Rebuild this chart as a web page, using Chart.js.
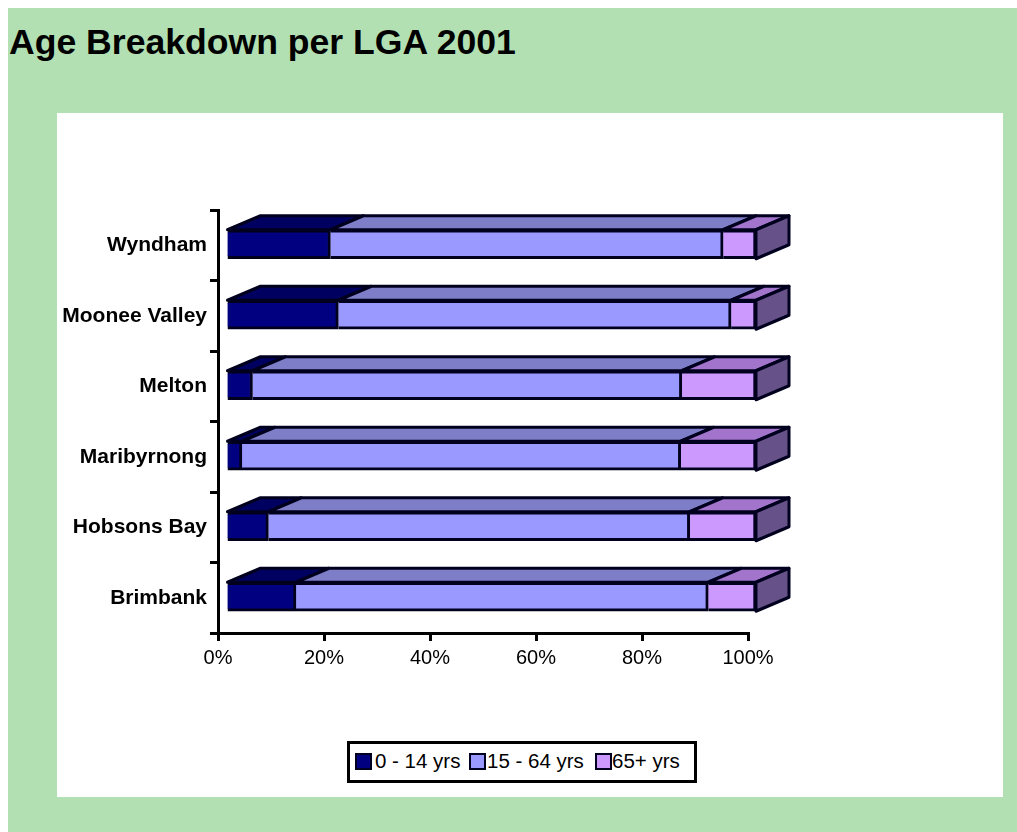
<!DOCTYPE html>
<html>
<head>
<meta charset="utf-8">
<title>Age Breakdown per LGA 2001</title>
<script src="https://cdn.jsdelivr.net/npm/chart.js@4"></script>
<style>
  html, body { margin: 0; background: #fff; overflow: hidden; }
  #page { position: absolute; left: 0; top: 0; width: 1017px; height: 832px; filter: blur(0.6px); }
  #green { position: absolute; left: 8px; top: 8px; right: 0; bottom: 0; background: #b2e0b2; }
  #panel { position: absolute; left: 57px; top: 113px; width: 946px; height: 684px; background: #fff; }
  h1 { position: absolute; left: 9px; top: 22px; margin: 0; font: bold 35.6px "Liberation Sans", Arial, sans-serif; color: #000; white-space: nowrap; }
  canvas { position: absolute; left: 0; top: 0; }
  #legend { position: absolute; left: 347px; top: 741px; width: 344px; height: 36px; border: 3px solid #000; background: #fff;
            font: 20.5px "Liberation Sans", Arial, sans-serif; color: #000; }
  #legend span { position: absolute; top: 5px; white-space: nowrap; }
  #legend i { position: absolute; top: 9px; width: 13px; height: 13px; border: 2px solid #000020; }
</style>
</head>
<body>
<div id="page">
  <div id="green"></div>
  <div id="panel"></div>
  <h1>Age Breakdown per LGA 2001</h1>
  <canvas id="chart" width="1017" height="832"></canvas>
  <div id="legend"></div>
</div>
<script>
const categories = ['Wyndham', 'Moonee Valley', 'Melton', 'Maribyrnong', 'Hobsons Bay', 'Brimbank'];
const seriesNames = ['0 - 14 yrs', '15 - 64 yrs', '65+ yrs'];
const kids = [19.7, 21.2, 5, 3, 8, 13.2];
const adults = [74.1, 74.1, 81, 82.8, 79.5, 77.8];
const seniors = [6.2, 4.7, 14, 14.2, 12.5, 9];
const xTicks = [0, 20, 40, 60, 80, 100];

const frontColors = ['#000080', '#9999ff', '#cc99ff'];
const topColors = ['#000060', '#7d7dc8', '#a274cc'];
const sideColor = '#665288';
const edge = '#00001e';

// fake excel style 3d: faces are drawn from the bar elements, front gets pushed off the axis
const shiftX = 8, shiftY = -1, depthX = 33, depthY = -14;

function face(ctx, pts, fill) {
  ctx.beginPath();
  pts.forEach((p, i) => i ? ctx.lineTo(p[0], p[1]) : ctx.moveTo(p[0], p[1]));
  ctx.closePath();
  ctx.fillStyle = fill;
  ctx.fill();
  ctx.stroke();
}

const bars3d = {
  id: 'bars3d',
  beforeDatasetsDraw(chart) {
    const ctx = chart.ctx;
    ctx.save();
    ctx.translate(shiftX, shiftY);
    ctx.lineWidth = 3;
    ctx.strokeStyle = edge;
    ctx.lineJoin = 'round';
    chart.data.datasets.forEach((ds, d) => {
      chart.getDatasetMeta(d).data.forEach(bar => {
        const top = bar.y - bar.height / 2, bottom = bar.y + bar.height / 2;
        face(ctx, [[bar.base, top], [bar.base + depthX, top + depthY], [bar.x + depthX, top + depthY], [bar.x, top]], topColors[d]);
        if (d === chart.data.datasets.length - 1) {
          face(ctx, [[bar.x, top], [bar.x + depthX, top + depthY], [bar.x + depthX, bottom + depthY], [bar.x, bottom]], sideColor);
        }
      });
    });
  },
  afterDatasetsDraw(chart) {
    chart.ctx.restore();
  }
};

new Chart(document.getElementById('chart'), {
  type: 'bar',
  plugins: [bars3d],
  data: {
    labels: categories,
    datasets: [kids, adults, seniors].map((vals, i) => ({
      label: seriesNames[i],
      data: vals,
      backgroundColor: frontColors[i],
      borderColor: edge,
      borderWidth: 3,
      barThickness: 29
    }))
  },
  options: {
    indexAxis: 'y',
    responsive: false,
    animation: false,
    layout: { padding: { left: 0, right: 269, top: 210, bottom: 0 } },
    plugins: { legend: { display: false }, tooltip: { enabled: false } },
    scales: {
      y: {
        stacked: true,
        offset: true,
        afterFit(s) { s.width = 218; },
        border: { color: '#000', width: 3 },
        grid: { offset: true, drawOnChartArea: false, color: '#000', lineWidth: 3, tickLength: 8 },
        ticks: { padding: 3, color: '#000', font: { family: '"Liberation Sans", Arial, sans-serif', size: 21, weight: 'bold' } }
      },
      x: {
        stacked: true,
        min: 0,
        max: 100,
        afterFit(s) { s.height = 199; },
        afterBuildTicks(s) { s.ticks = xTicks.map(v => ({ value: v })); },
        border: { color: '#000', width: 3 },
        grid: { drawOnChartArea: false, color: '#000', lineWidth: 3, tickLength: 8 },
        ticks: {
          padding: 5,
          maxRotation: 0,
          autoSkip: false,
          color: '#000',
          font: { family: '"Liberation Sans", Arial, sans-serif', size: 20 },
          callback: v => v + '%'
        }
      }
    }
  }
});

// legend is plain html, chart.js leaves too wide a gap after the swatch
const legend = document.getElementById('legend');
const swatchX = [5, 119, 245], textX = [25, 137, 262];
seriesNames.forEach((name, i) => {
  const sw = document.createElement('i');
  sw.style.left = swatchX[i] + 'px';
  sw.style.background = frontColors[i];
  legend.appendChild(sw);
  const label = document.createElement('span');
  label.style.left = textX[i] + 'px';
  label.textContent = name;
  legend.appendChild(label);
});
</script>
</body>
</html>
